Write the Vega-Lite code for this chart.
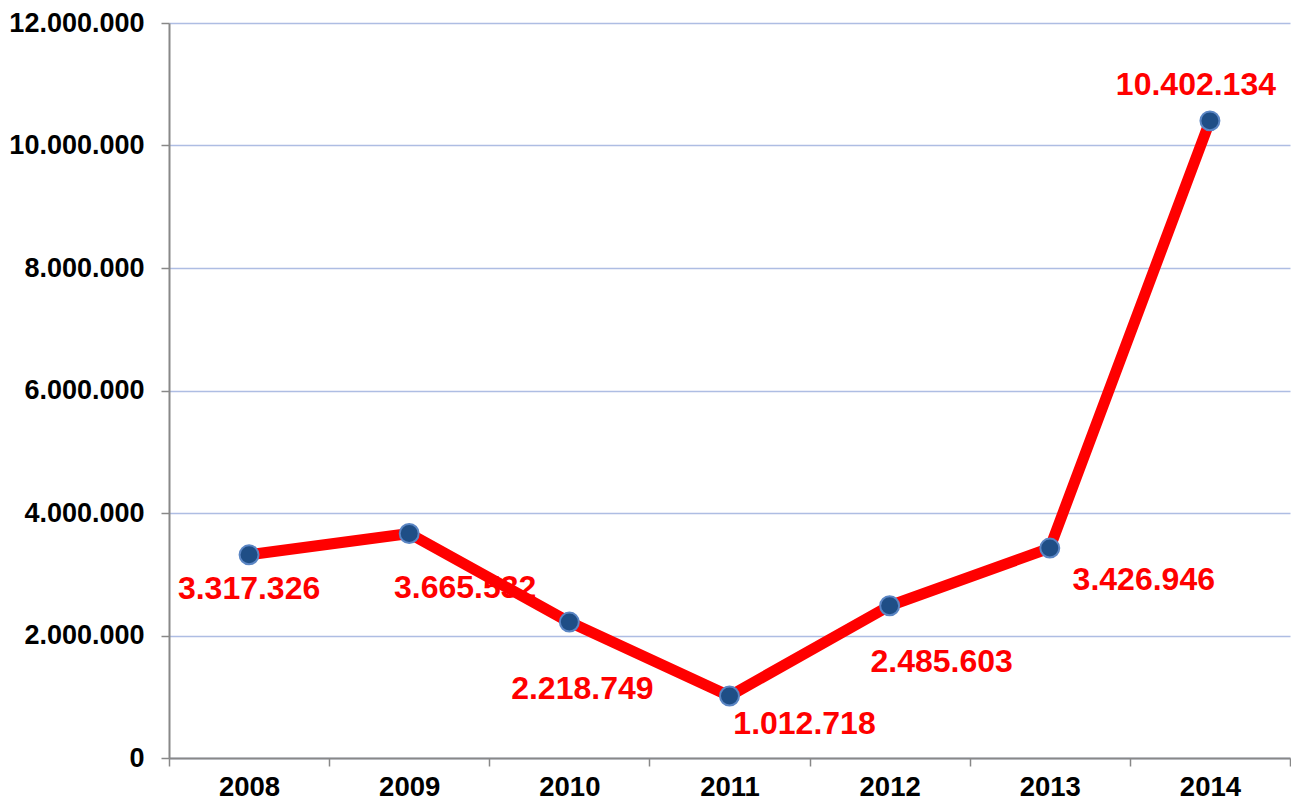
{
  "$schema": "https://vega.github.io/schema/vega-lite/v6.json",
  "width": 1291,
  "height": 802,
  "autosize": {"type": "fit", "contains": "padding"},
  "padding": {"left": 8, "top": 9, "right": 0, "bottom": 1},
  "config": {
    "locale": {"number": {"decimal": ",", "thousands": ".", "grouping": [3], "currency": ["", " €"]}},
    "view": {"stroke": null},
    "font": "Liberation Sans"
  },
  "data": {"values": [
    {"year": "2008", "value": 3317326},
    {"year": "2009", "value": 3665532},
    {"year": "2010", "value": 2218749},
    {"year": "2011", "value": 1012718},
    {"year": "2012", "value": 2485603},
    {"year": "2013", "value": 3426946},
    {"year": "2014", "value": 10402134}
  ]},
  "encoding": {
    "x": {"field": "year", "type": "ordinal", "scale": {"type": "band", "paddingInner": 0, "paddingOuter": 0},
      "axis": {"title": null, "labelAngle": 0, "labelFont": "Liberation Sans", "labelFontWeight": "bold", "labelFontSize": 27.5, "labelColor": "#000000",
        "domainColor": "#888888", "domainWidth": 2, "tickColor": "#888888", "tickWidth": 1.5, "tickSize": 8, "tickBand": "extent", "labelPadding": 7, "grid": false}},
    "y": {"field": "value", "type": "quantitative", "scale": {"domain": [0, 12000000], "nice": false},
      "axis": {"title": null, "values": [0, 2000000, 4000000, 6000000, 8000000, 10000000, 12000000], "format": ",d",
        "labelFont": "Liberation Sans", "labelFontWeight": "bold", "labelFontSize": 27, "labelColor": "#000000", "labelPadding": 17,
        "domainColor": "#888888", "domainWidth": 2, "tickColor": "#888888", "tickWidth": 1.5, "tickSize": 8,
        "grid": true, "gridColor": "#aebde3", "gridWidth": 1.5}}
  },
  "layer": [
    {"transform": [{"filter": "datum.year == '2008'"}], "mark": {"type": "text", "dx": 0, "dy": 34, "fontSize": 32, "fontWeight": "bold", "color": "#ff0000"}, "encoding": {"text": {"field": "value", "type": "quantitative", "format": ",d"}}},
    {"transform": [{"filter": "datum.year == '2009'"}], "mark": {"type": "text", "dx": 56, "dy": 55, "fontSize": 32, "fontWeight": "bold", "color": "#ff0000"}, "encoding": {"text": {"field": "value", "type": "quantitative", "format": ",d"}}},
    {"transform": [{"filter": "datum.year == '2010'"}], "mark": {"type": "text", "dx": 13, "dy": 67, "fontSize": 32, "fontWeight": "bold", "color": "#ff0000"}, "encoding": {"text": {"field": "value", "type": "quantitative", "format": ",d"}}},
    {"transform": [{"filter": "datum.year == '2011'"}], "mark": {"type": "text", "dx": 75, "dy": 28, "fontSize": 32, "fontWeight": "bold", "color": "#ff0000"}, "encoding": {"text": {"field": "value", "type": "quantitative", "format": ",d"}}},
    {"transform": [{"filter": "datum.year == '2012'"}], "mark": {"type": "text", "dx": 52, "dy": 56, "fontSize": 32, "fontWeight": "bold", "color": "#ff0000"}, "encoding": {"text": {"field": "value", "type": "quantitative", "format": ",d"}}},
    {"transform": [{"filter": "datum.year == '2013'"}], "mark": {"type": "text", "dx": 94, "dy": 32, "fontSize": 32, "fontWeight": "bold", "color": "#ff0000"}, "encoding": {"text": {"field": "value", "type": "quantitative", "format": ",d"}}},
    {"transform": [{"filter": "datum.year == '2014'"}], "mark": {"type": "text", "dx": -14, "dy": -36, "fontSize": 32, "fontWeight": "bold", "color": "#ff0000"}, "encoding": {"text": {"field": "value", "type": "quantitative", "format": ",d"}}},
    {"mark": {"type": "line", "color": "#ff0000", "strokeWidth": 11, "strokeCap": "round", "strokeJoin": "round"}},
    {"mark": {"type": "point", "filled": true, "shape": "circle", "size": 360, "color": "#1f4e86", "stroke": "#5b86c4", "strokeWidth": 2, "opacity": 1}}
  ]
}
